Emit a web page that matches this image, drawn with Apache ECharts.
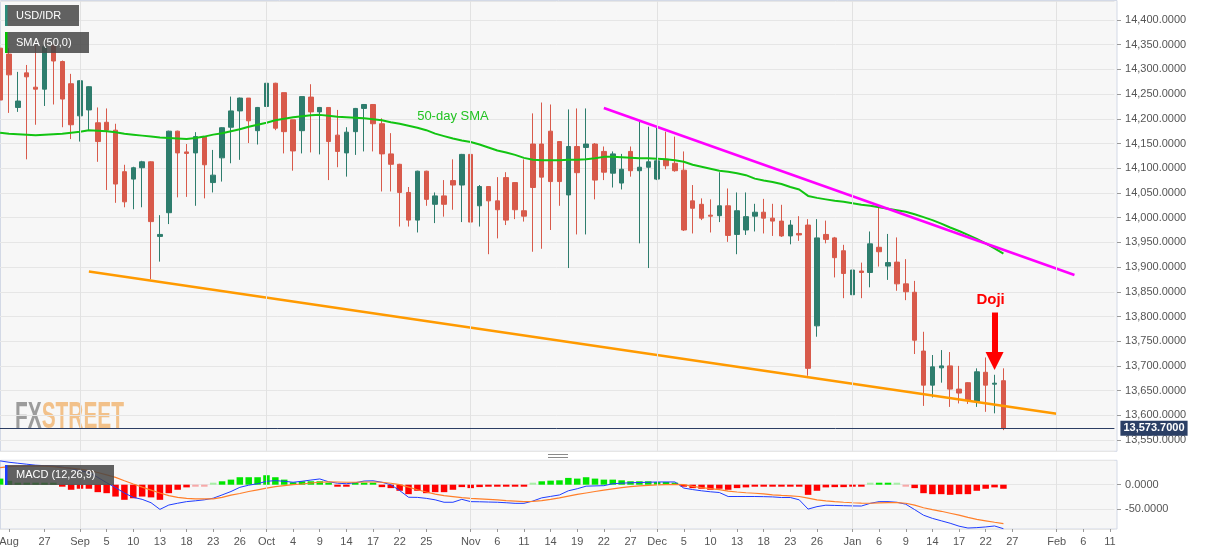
<!DOCTYPE html>
<html><head><meta charset="utf-8">
<script src="https://cdn.jsdelivr.net/npm/echarts@6/dist/echarts.min.js"></script>
<style>html,body{margin:0;padding:0;background:#fff}#c{width:1207px;height:555px}</style>
</head><body><div id="c"></div>
<script>
// ---- calendar (weekday slots from Aug 20 2019 to Feb 11 2020) ----
const slotCount = 126;
const dates = [];
(function () {
  const d = new Date(Date.UTC(2019, 7, 20));
  while (dates.length < slotCount) {
    const w = d.getUTCDay();
    if (w !== 0 && w !== 6) dates.push(d.toISOString().slice(0, 10));
    d.setUTCDate(d.getUTCDate() + 1);
  }
})();

// ---- tick labels ----
const tickLabels = [['2019-08-21','Aug'],['2019-08-27','27'],['2019-09-02','Sep'],['2019-09-05','5'],['2019-09-10','10'],['2019-09-13','13'],['2019-09-18','18'],['2019-09-23','23'],['2019-09-26','26'],['2019-10-01','Oct'],['2019-10-04','4'],['2019-10-09','9'],['2019-10-14','14'],['2019-10-17','17'],['2019-10-22','22'],['2019-10-25','25'],['2019-11-01','Nov'],['2019-11-06','6'],['2019-11-11','11'],['2019-11-14','14'],['2019-11-19','19'],['2019-11-22','22'],['2019-11-27','27'],['2019-12-02','Dec'],['2019-12-05','5'],['2019-12-10','10'],['2019-12-13','13'],['2019-12-18','18'],['2019-12-23','23'],['2019-12-26','26'],['2020-01-01','Jan'],['2020-01-06','6'],['2020-01-09','9'],['2020-01-14','14'],['2020-01-17','17'],['2020-01-22','22'],['2020-01-27','27'],['2020-02-03','Feb'],['2020-02-06','6'],['2020-02-11','11']];
const monthStarts = ['2019-09-02','2019-10-01','2019-11-01','2019-12-02','2020-01-01','2020-02-03'];

// ---- price data (one per weekday from Aug 20 2019) ----
const openPrices = [14343,14331,14223,14293,14264,14260,14349,14316,14271,14206,
14218,14192,14193,14177,14093,14078,14101,14113,13962,14010,
14175,14133,14131,14164,14071,14121,14183,14216,14242,14176,
14225,14272,14253,14198,14176,14244,14214,14223,14167,14131,
14174,14221,14229,14190,14129,14108,14051,13995,14094,14027,
14044,14075,14066,14128,14024,14063,14034,14081,14071,14014,
14149,14149,14175,14154,14046,14144,14142,14149,14134,14090,
14070,14134,14095,14102,14078,14118,14110,14096,14034,14027,
14005,14004,14024,13966,13975,14003,14011,13999,13993,13963,
13968,13985,13781,13966,13959,13933,13844,13892,13889,13940,
13902,13910,13866,13849,13730,13661,13696,13700,13653,13666,
13628,13687,13663,13670];
const closePrices = [14238,14289,14236,14285,14260,14346,14317,14240,14188,14277,
14265,14154,14177,14068,14032,14101,14113,13992,13966,14175,
14131,14130,14164,14107,14086,14182,14216,14242,14196,14223,
14272,14181,14174,14135,14245,14214,14223,14154,14134,14173,
14221,14229,14190,14129,14108,14051,13995,14094,14037,14044,
14027,14066,14128,13991,14063,14034,14016,13995,14016,14003,
14061,14082,14073,14073,14144,14091,14149,14076,14092,14129,
14098,14095,14102,14113,14115,14105,14095,13975,14019,13999,
14003,14024,13964,14014,14002,14011,13999,13993,13963,13985,
13965,13695,13959,13956,13919,13887,13894,13889,13947,13931,
13909,13866,13850,13752,13661,13698,13700,13653,13645,13631,
13688,13661,13665,13573.7];
const lowPrices = [14228,14212,14214,14118,14188,14226,14229,14183,14159,14154,
14177,14113,14056,14030,14021,14017,14021,13875,13911,13987,
14041,14042,14024,14039,14051,14073,14110,14117,14151,14148,
14169,14177,14130,14095,14130,14132,14128,14076,14102,14083,
14127,14134,14134,14053,14053,13982,13982,13970,14024,13989,
14002,14016,13991,13987,13982,13926,13958,13985,13997,13992,
13931,13937,13975,14024,13898,13966,13966,14037,14076,14061,
14057,14083,13948,13898,14076,14098,14093,13973,13968,13995,
13970,13991,13951,13926,13965,13972,13968,13963,13961,13946,
13953,13680,13759,13948,13879,13837,13840,13837,13859,13901,
13874,13852,13833,13724,13619,13636,13666,13617,13624,13623,
13617,13607,13604,13570];
const highPrices = [14349,14343,14295,14309,14349,14360,14355,14318,14291,14278,
14266,14223,14221,14190,14107,14103,14115,14114,14005,14176,
14176,14149,14173,14164,14137,14183,14245,14243,14242,14224,
14275,14273,14253,14198,14245,14270,14224,14223,14218,14183,
14222,14230,14230,14201,14171,14109,14062,14095,14095,14051,
14076,14118,14129,14129,14066,14064,14082,14092,14072,14118,
14211,14233,14229,14155,14219,14221,14221,14151,14144,14134,
14129,14144,14194,14184,14184,14174,14164,14134,14066,14039,
14037,14092,14059,14051,14051,14028,14038,14028,14026,13995,
14003,13997,13997,13994,13961,13945,13975,13909,13972,14022,
13967,13960,13916,13872,13769,13722,13732,13728,13700,13667,
13695,13717,13682,13695];
const sma50 = [14172,14170,14169,14168,14167,14168,14169,14170,14172,14174,
14177,14176,14175,14173,14170,14168,14166,14164,14162,14161,
14160,14159,14161,14164,14168,14171,14175,14179,14184,14188,
14192,14197,14200,14203,14205,14207,14208,14206,14204,14203,
14202,14201,14199,14197,14193,14190,14186,14182,14177,14170,
14165,14160,14156,14153,14148,14142,14136,14132,14127,14121,
14117,14116,14116,14116,14117,14117,14118,14120,14123,14123,
14122,14121,14120,14120,14119,14118,14116,14113,14107,14103,
14099,14095,14093,14090,14086,14079,14075,14072,14068,14062,
14057,14044,14040,14037,14034,14032,14029,14026,14024,14021,
14018,14015,14012,14007,14001,13995,13988,13980,13973,13965,
13957,13948,13938,13927];

// ---- MACD (12,26,9) ----
const macdLine = [48.8,46,44,42,40,39,38,36,33,29,
25,15,4,-6,-17,-26,-30,-37,-50.6,-41.7,
-38,-34.7,-33,-31,-27.7,-21,-14,-5.4,-1,2,
7,8.3,7,5,7,9.5,11.8,6,3,2,
4,7.5,8,5,0,-12,-25.7,-26,-28,-31,
-36,-36,-30,-34.7,-35,-35.5,-36,-37,-38.2,-38.2,
-33.5,-27,-24,-21,-12.5,-8.3,-3,-2.5,-2,2,
3,4,4.5,5,5.6,5.6,5.6,-6.9,-10,-12.5,
-14.5,-16,-24.2,-24.2,-24.2,-24.2,-24.5,-25,-26.3,-26.3,
-31,-50,-45,-42,-42.5,-43,-43.5,-43.7,-38.2,-34.7,
-34.7,-36,-40,-51,-62.5,-69,-74,-79,-85,-88.8,
-88,-86.6,-84.6,-90.2];
const signalLine = [34.8,37,38.2,38.2,38,38,37,35,34,32,
29,25,20,15,8,1.4,-5,-11,-17,-22.5,
-26,-28,-29,-29.2,-29.2,-26,-21.5,-18,-14,-10.5,
-7,-4,-2,0,1.4,3.5,5,5.6,5.5,5,
5,5.5,5.5,5,3,0,-5,-10.4,-15,-19.4,
-22.5,-24.5,-26.5,-28,-29,-30,-31.2,-32.5,-33.5,-34.7,
-34,-32.6,-30,-27,-23.5,-20,-17,-14,-11,-8.5,
-6,-4,-2.5,-1.4,-0.5,0,0.5,0,-3.5,-6,
-8,-10,-13,-15,-16.5,-17.5,-19,-20.8,-22,-23,
-24.2,-27.5,-31,-33,-34.7,-36,-37,-37.8,-38,-37.2,
-36.8,-36.8,-38,-42,-47.2,-51,-54.5,-58.5,-62.5,-67,
-71,-74,-77,-79.8];
const histogram = [12.5,8,3,2,1.5,1.5,1.2,-2,-10.4,-8.3,
-8.3,-15.3,-17.4,-24.3,-31,-27.8,-24.3,-26,-31,-17.4,
-10.4,-5.5,-1,-1,0.5,7,10.4,15.3,15.3,15.3,
19.4,15.3,10.4,5,7,7,7,2,-2,-2,
1.5,2,1.5,-5,-7,-12.5,-19.4,-12.5,-17.4,-15.3,
-15.3,-10.4,-4.9,-7,-4.9,-4,-4,-4,-4,-4,
0.5,7,8.3,9,13.9,12.5,15.3,12.5,10.4,10.4,
9,7,7,7,5.5,5.5,3,-2,-7,-8.3,
-10.4,-8.3,-10.4,-7,-5.5,-4,-4,-4,-4,-4,
-4,-20.8,-12.5,-5.5,-5,-5,-4,-3.5,0.5,2,
1.5,0.5,-1,-7,-17.4,-19.4,-19.4,-20.8,-19.4,-19.4,
-12.5,-8.3,-5.5,-8.3];

// ---- annotations ----
const supportLine = [['2019-09-03', 13891], ['2020-02-03', 13603]];
const resistanceLine = [['2019-11-22', 14222], ['2020-02-05', 13884]];
const lastPrice = 13573.7;
const dojiDate = '2020-01-23';
const dojiArrow = [13808, 13710];
const dojiTextValue = 13833;
const smaLabel = ['2019-10-30', 14204];

// ---- helpers ----
function fmt(v) {
  const neg = v < 0;
  const s = Math.abs(v).toFixed(4).split('.');
  return (neg ? '-' : '') + s[0].replace(/\B(?=(\d{3})+(?!\d))/g, ',') + '.' + s[1];
}
const labelMap = new Map(tickLabels);
const isLabel = (i, v) => labelMap.has(v);
const candles = openPrices.map((o, i) => [o, closePrices[i], lowPrices[i], highPrices[i]]);
const histData = histogram.map(v => ({
  value: v,
  itemStyle: { color: Math.abs(v) <= 1 ? (v < 0 ? '#f7a8a8' : '#a6efa6') : (v < 0 ? '#ff0000' : '#00e600') }
}));

const slot = 8.879;
const gridLeft = 0.1 - slot / 2;
const gridWidth = slot * dates.length;
const FONT = 'Liberation Sans, Arial, sans-serif';

const chart = echarts.init(document.getElementById('c'), null, { renderer: 'canvas' });
const monthLines = {
  silent: true, animation: false, symbol: ['none', 'none'],
  label: { show: false },
  lineStyle: { color: '#e2e2e2', width: 1, type: 'solid' },
  emphasis: { disabled: true },
  data: monthStarts.map(d => ({ xAxis: d }))
};

const option = {
  animation: false,
  backgroundColor: '#ffffff',
  textStyle: { fontFamily: FONT },
  grid: [
    { left: gridLeft, top: 1, width: gridWidth, height: 450.3, show: false, outerBoundsMode: 'none' },
    { left: gridLeft, top: 460.3, width: gridWidth, height: 68.7, show: false, outerBoundsMode: 'none' }
  ],
  xAxis: [
    { type: 'category', gridIndex: 0, data: dates, boundaryGap: true, show: false, axisLine: { onZero: false } },
    { type: 'category', gridIndex: 1, data: dates, boundaryGap: true, position: 'bottom',
      axisLine: { show: false, onZero: false },
      axisTick: { show: true, alignWithLabel: true, interval: isLabel, length: 3, lineStyle: { color: '#9a9a9a' } },
      axisLabel: { interval: isLabel, formatter: v => labelMap.get(v) || '', color: '#555', fontSize: 11, margin: 7, fontFamily: FONT },
      splitLine: { show: false } }
  ],
  yAxis: [
    { type: 'value', gridIndex: 0, position: 'right', offset: 2.6, min: 13527.13, max: 14438.45, splitNumber: 18,
      axisLine: { show: false },
      axisTick: { show: true, length: 4, lineStyle: { color: '#9a9a9a' } },
      axisLabel: { formatter: fmt, color: '#555', fontSize: 11, margin: 8, showMinLabel: false, showMaxLabel: false, fontFamily: FONT },
      splitLine: { show: true, lineStyle: { color: '#e6e6e6', width: 1 } } },
    { type: 'value', gridIndex: 1, position: 'right', offset: 2.6, min: -90.8, max: 50, splitNumber: 3,
      axisLine: { show: false },
      axisTick: { show: true, length: 4, lineStyle: { color: '#9a9a9a' } },
      axisLabel: { formatter: v => (Math.abs(v) < 1e-9 || Math.abs(v + 50) < 1e-9) ? fmt(v) : '', color: '#555', fontSize: 11, margin: 8, showMinLabel: false, showMaxLabel: false, fontFamily: FONT },
      splitLine: { show: true, lineStyle: { color: '#e6e6e6', width: 1 } } }
  ],
  series: [
    { type: 'line', xAxisIndex: 0, yAxisIndex: 0, data: [], z: 1, silent: true, markLine: monthLines },
    { type: 'candlestick', name: 'USD/IDR', xAxisIndex: 0, yAxisIndex: 0, data: candles, barWidth: 5, z: 3,
      itemStyle: { color: '#2e7d6d', color0: '#d85a4b', borderColor: '#2e7d6d', borderColor0: '#d85a4b', borderWidth: 1 },
      markLine: {
        silent: true, animation: false, symbol: ['none', 'none'],
        data: [
          { yAxis: lastPrice, lineStyle: { color: '#2c3e63', width: 1, type: 'solid' },
            label: { show: true, position: 'end', formatter: fmt(lastPrice), color: '#fff', backgroundColor: '#2b3f65',
                     fontWeight: 'bold', fontSize: 11, padding: [2, 3, 2, 3], distance: 6, fontFamily: FONT } },
          [ { coord: [dojiDate, dojiArrow[0]], symbol: 'none', lineStyle: { color: '#ff0000', width: 6, type: 'solid' }, label: { show: false } },
            { coord: [dojiDate, dojiArrow[1]], symbol: 'triangle', symbolSize: [18, 18] } ]
        ]
      },
      markPoint: {
        silent: true, animation: false,
        data: [ { coord: [dojiDate, dojiTextValue], symbol: 'circle', symbolSize: 0,
                  label: { show: true, formatter: 'Doji', color: '#ff0000', fontSize: 15, fontWeight: 'bold', position: 'inside', offset: [-4, 0], fontFamily: FONT } } ]
      }
    },
    { type: 'line', name: 'SMA', xAxisIndex: 0, yAxisIndex: 0, data: sma50, symbol: 'none', z: 4,
      lineStyle: { color: '#12c412', width: 2 }, itemStyle: { color: '#12c412' },
      markPoint: { silent: true, animation: false,
        data: [ { coord: smaLabel, symbol: 'circle', symbolSize: 0,
                  label: { show: true, formatter: '50-day SMA', color: '#22c322', fontSize: 13, position: 'inside', fontFamily: FONT } } ] } },
    { type: 'line', xAxisIndex: 0, yAxisIndex: 0, data: supportLine, symbol: 'none', z: 4,
      lineStyle: { color: '#ff9a00', width: 2.5 }, itemStyle: { color: '#ff9a00' } },
    { type: 'line', xAxisIndex: 0, yAxisIndex: 0, data: resistanceLine, symbol: 'none', z: 4,
      lineStyle: { color: '#ff00ff', width: 2.5 }, itemStyle: { color: '#ff00ff' } },
    { type: 'line', xAxisIndex: 1, yAxisIndex: 1, data: [], z: 1, silent: true, markLine: monthLines },
    { type: 'bar', xAxisIndex: 1, yAxisIndex: 1, data: histData, barWidth: 6.5, barMinHeight: 2, z: 2 },
    { type: 'line', xAxisIndex: 1, yAxisIndex: 1, data: macdLine, symbol: 'none', z: 3,
      lineStyle: { color: '#1f3cff', width: 1 }, itemStyle: { color: '#1f3cff' } },
    { type: 'line', xAxisIndex: 1, yAxisIndex: 1, data: signalLine, symbol: 'none', z: 3,
      lineStyle: { color: '#ff7f2a', width: 1.2 }, itemStyle: { color: '#ff7f2a' } }
  ],
  graphic: [
    { type: 'rect', z: -10, silent: true, shape: { x: 0.5, y: 0.5, width: 1116.5, height: 450.8 }, style: { fill: '#f7f7f7', stroke: '#d3d9e6', lineWidth: 1 } },
    { type: 'rect', z: -10, silent: true, shape: { x: 0.5, y: 460.3, width: 1116.5, height: 68.7 }, style: { fill: '#f7f7f7', stroke: '#d3d9e6', lineWidth: 1 } },
    { type: 'line', z: 5, silent: true, shape: { x1: 548, y1: 454.5, x2: 568, y2: 454.5 }, style: { stroke: '#8a8a8a', lineWidth: 1 } },
    { type: 'line', z: 5, silent: true, shape: { x1: 548, y1: 457.5, x2: 568, y2: 457.5 }, style: { stroke: '#8a8a8a', lineWidth: 1 } },
    { type: 'text', z: -5, silent: true, x: 15, y: 418, scaleX: 0.58,
      style: { text: '{a|FX}{b|STREET}', verticalAlign: 'middle',
        rich: { a: { fill: 'rgba(125,125,125,0.75)', fontSize: 36, fontWeight: 'bold', fontFamily: FONT },
                b: { fill: 'rgba(238,150,50,0.55)', fontSize: 36, fontWeight: 'bold', fontFamily: FONT } } } },
    { type: 'group', x: 5, y: 5, z: 100, children: [
      { type: 'rect', z: 100, shape: { x: 0, y: 0, width: 74, height: 21 }, style: { fill: 'rgba(70,70,70,0.85)' } },
      { type: 'rect', z: 101, shape: { x: 0, y: 0, width: 2.5, height: 21 }, style: { fill: '#2b8c7b' } },
      { type: 'text', z: 102, x: 11, y: 10.5, style: { text: 'USD/IDR', fill: '#fff', fontSize: 11, fontFamily: FONT, verticalAlign: 'middle' } }
    ] },
    { type: 'group', x: 5, y: 32, z: 100, children: [
      { type: 'rect', z: 100, shape: { x: 0, y: 0, width: 84, height: 21 }, style: { fill: 'rgba(70,70,70,0.85)' } },
      { type: 'rect', z: 101, shape: { x: 0, y: 0, width: 2.5, height: 21 }, style: { fill: '#00c400' } },
      { type: 'text', z: 102, x: 11, y: 10.5, style: { text: 'SMA (50,0)', fill: '#fff', fontSize: 11, fontFamily: FONT, verticalAlign: 'middle' } }
    ] },
    { type: 'group', x: 5, y: 465, z: 100, children: [
      { type: 'rect', z: 100, shape: { x: 0, y: 0, width: 109, height: 20 }, style: { fill: 'rgba(70,70,70,0.85)' } },
      { type: 'rect', z: 101, shape: { x: 0, y: 0, width: 2.5, height: 20 }, style: { fill: '#1a3cff' } },
      { type: 'text', z: 102, x: 11, y: 10, style: { text: 'MACD (12,26,9)', fill: '#fff', fontSize: 11, fontFamily: FONT, verticalAlign: 'middle' } }
    ] }
  ]
};
chart.setOption(option);
</script>
</body></html>
